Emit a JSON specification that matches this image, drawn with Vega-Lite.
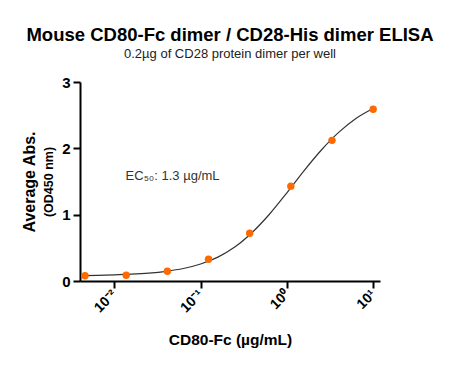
{
  "$schema": "https://vega.github.io/schema/vega-lite/v6.json",
  "width": 300,
  "height": 199,
  "autosize": {"type": "none"},
  "padding": {"left": 80, "top": 82, "right": 76, "bottom": 85},
  "background": "white",
  "config": {
    "view": {"stroke": null},
    "font": "Liberation Sans",
    "axis": {"grid": false, "domainColor": "black", "tickColor": "black", "labelColor": "black", "titleColor": "black", "domainWidth": 2, "tickWidth": 2, "tickSize": 7, "labelFont": "Liberation Sans", "titleFont": "Liberation Sans"}
  },
  "title": {
    "text": "Mouse CD80-Fc dimer / CD28-His dimer ELISA",
    "subtitle": "0.2µg of CD28 protein dimer per well",
    "fontSize": 18.5,
    "fontWeight": "bold",
    "color": "black",
    "subtitleFontSize": 13,
    "subtitleColor": "#222",
    "subtitlePadding": 4,
    "anchor": "middle",
    "offset": 14,
    "font": "Liberation Sans",
    "subtitleFont": "Liberation Sans"
  },
  "datasets": {
    "points": [
      {"conc": 0.004572, "abs": 0.080},
      {"conc": 0.01372, "abs": 0.086},
      {"conc": 0.04115, "abs": 0.146},
      {"conc": 0.1235, "abs": 0.327},
      {"conc": 0.3704, "abs": 0.720},
      {"conc": 1.111, "abs": 1.430},
      {"conc": 3.333, "abs": 2.120},
      {"conc": 10, "abs": 2.590}
    ],
    "curve": [
      {"conc": 0.004571, "abs": 0.0825},
      {"conc": 0.00631, "abs": 0.0855},
      {"conc": 0.01, "abs": 0.0919},
      {"conc": 0.01585, "abs": 0.1024},
      {"conc": 0.02512, "abs": 0.119},
      {"conc": 0.03981, "abs": 0.146},
      {"conc": 0.0631, "abs": 0.188},
      {"conc": 0.1, "abs": 0.256},
      {"conc": 0.1585, "abs": 0.360},
      {"conc": 0.2512, "abs": 0.515},
      {"conc": 0.3981, "abs": 0.735},
      {"conc": 0.631, "abs": 1.01},
      {"conc": 1, "abs": 1.33},
      {"conc": 1.585, "abs": 1.665},
      {"conc": 2.512, "abs": 1.975},
      {"conc": 3.981, "abs": 2.24},
      {"conc": 6.31, "abs": 2.45},
      {"conc": 10, "abs": 2.60}
    ],
    "note": [{"conc": 0.0135, "abs": 1.58, "label": "EC₅₀: 1.3 µg/mL"}]
  },
  "layer": [
    {
      "data": {"name": "curve"},
      "mark": {"type": "line", "color": "#333333", "strokeWidth": 1.2, "interpolate": "monotone"},
      "encoding": {
        "x": {"field": "conc", "type": "quantitative", "scale": {"type": "log", "domain": [0.004, 12], "nice": false},
          "axis": {"title": "CD80-Fc (µg/mL)", "titleFontSize": 15.5, "titleFontWeight": "bold", "titlePadding": 18,
            "values": [0.01, 0.1, 1, 10],
            "labelExpr": "datum.value < 0.05 ? '10⁻²' : datum.value < 0.5 ? '10⁻¹' : datum.value < 5 ? '10⁰' : '10¹'",
            "labelAngle": -45, "labelAlign": "right", "labelBaseline": "middle", "labelFontSize": 14, "labelFontWeight": "bold", "labelPadding": 4}},
        "y": {"field": "abs", "type": "quantitative", "scale": {"domain": [0, 3], "nice": false},
          "axis": {"title": "(OD450 nm)", "titleFontSize": 12.5, "titleFontWeight": "bold", "values": [0, 1, 2, 3], "labelFontSize": 15, "labelFontWeight": "bold", "titlePadding": 6, "labelPadding": 3}}
      }
    },
    {
      "data": {"name": "points"},
      "mark": {"type": "circle", "color": "#FF6A00", "opacity": 1, "size": 55},
      "encoding": {
        "x": {"field": "conc", "type": "quantitative"},
        "y": {"field": "abs", "type": "quantitative",
          "axis": {"title": "Average Abs.", "titleFontSize": 16, "titleFontWeight": "bold", "orient": "left", "labels": false, "ticks": false, "domain": false, "titlePadding": 43}}
      }
    },
    {
      "data": {"name": "note"},
      "mark": {"type": "text", "align": "left", "baseline": "middle", "fontSize": 13, "color": "#333333"},
      "encoding": {
        "x": {"field": "conc", "type": "quantitative"},
        "y": {"field": "abs", "type": "quantitative", "axis": null},
        "text": {"field": "label"}
      }
    }
  ],
  "resolve": {"axis": {"y": "independent"}}
}
